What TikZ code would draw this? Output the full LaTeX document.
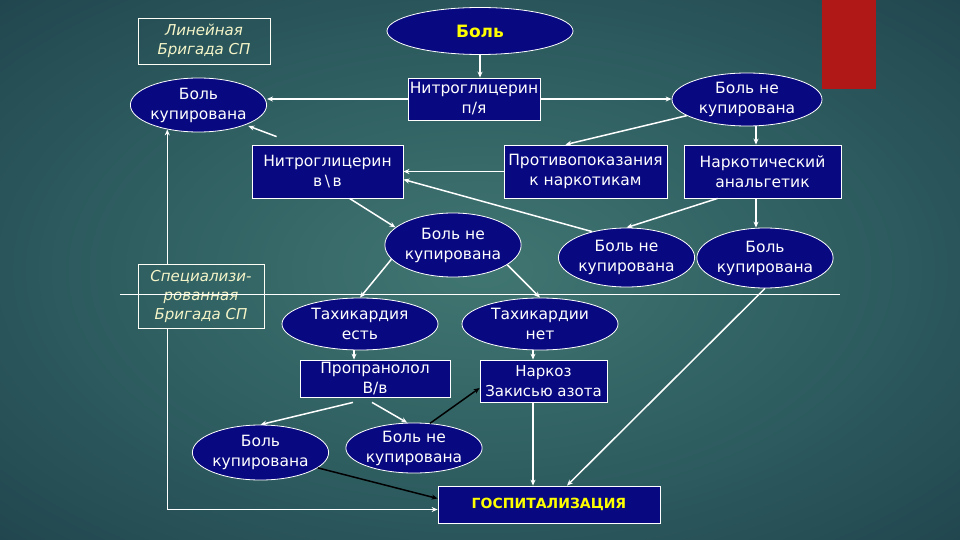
\documentclass[tikz,border=0pt]{standalone}
\usepackage{fontspec}
\setmainfont{DejaVu Sans}
\usetikzlibrary{shapes.geometric,arrows.meta,calc}
\definecolor{nv}{RGB}{8,8,128}
\definecolor{yel}{RGB}{255,255,0}
\definecolor{cream}{RGB}{245,245,200}
\definecolor{bgc}{RGB}{64,118,114}
\definecolor{bgm}{RGB}{44,90,94}
\definecolor{bge}{RGB}{22,48,62}
\definecolor{redbar}{RGB}{176,24,24}
\pgfdeclareradialshading{bgshade}{\pgfpoint{0bp}{0bp}}{color(0bp)=(bgc); color(22bp)=(bgm); color(50bp)=(bge); color(75bp)=(bge)}
\begin{document}
\begin{tikzpicture}[x=1pt,y=-1pt,
 every node/.style={font=\fontsize{15.5}{20}\selectfont, text=white, align=center, inner sep=0pt},
 ell/.style={ellipse, draw=white, line width=0.8pt, fill=nv},
 rbox/.style={rectangle, draw=white, line width=0.8pt, fill=nv},
 lbox/.style={rectangle, draw=white!85!cream, line width=0.8pt, text=cream, font=\fontsize{15}{19}\selectfont\itshape},
 arr/.style={draw=white, line width=1.5pt, -{Stealth[length=6pt,width=5pt]}},
 barr/.style={draw=black, line width=1.5pt, -{Stealth[length=6pt,width=5pt]}},
 sep/.style={draw=white, line width=1pt}]
\useasboundingbox (0,0) rectangle (960,540);
\shade[shading=bgshade] (0,0) rectangle (960,540);
\fill[redbar] (822,0) rectangle (876,89);

% nodes
\node[ell, minimum width=186pt, minimum height=47pt, text=yel, font=\fontsize{17}{20}\selectfont\bfseries] (bol) at (480,31) {Боль};
\node[lbox, minimum width=132pt, minimum height=46pt] (lin) at (204,41) {Линейная\\Бригада СП};
\node[rbox, minimum width=132pt, minimum height=42pt] (npya) at (474,99) {Нитроглицерин\\п/я};
\node[ell, minimum width=133pt, minimum height=54pt] (bk1) at (198.5,105) {Боль\\купирована};
\node[ell, minimum width=150pt, minimum height=53pt] (bnk1) at (747,99.5) {Боль не\\купирована};
\node[rbox, minimum width=151pt, minimum height=53pt] (nvv) at (327.5,171.5) {Нитроглицерин\\в\,\textbackslash\,в};
\node[rbox, minimum width=163pt, minimum height=53pt] (prot) at (585.5,171.5) {Противопоказания\\к наркотикам};
\node[rbox, minimum width=157pt, minimum height=53pt] (nark) at (762.5,171.5) {Наркотический\\анальгетик};
\node[ell, minimum width=126pt, minimum height=64pt] (bnk2) at (453,245) {Боль не\\купирована};
\node[ell, minimum width=127pt, minimum height=59pt] (bnk3) at (626.5,257.5) {Боль не\\купирована};
\node[ell, minimum width=126pt, minimum height=60pt] (bk2) at (765,258) {Боль\\купирована};
\node[lbox, minimum width=126pt, minimum height=64pt] (spec) at (201,296.5) {Специализи-\\рованная\\Бригада СП};
\node[ell, minimum width=156pt, minimum height=52pt] (tach1) at (360,324) {Тахикардия\\есть};
\node[ell, minimum width=156pt, minimum height=52pt] (tach2) at (540,324) {Тахикардии\\нет};
\node[rbox, minimum width=150pt, minimum height=37pt] (prop) at (375,378.5) {Пропранолол\\В/в};
\node[rbox, minimum width=127pt, minimum height=42pt, font=\fontsize{15}{20}\selectfont] (narkoz) at (543.5,381) {Наркоз\\Закисью азота};
\node[ell, minimum width=125pt, minimum height=55pt] (bk3) at (260.5,452.5) {Боль\\купирована};
\node[ell, minimum width=132pt, minimum height=50pt] (bnk4) at (414,448) {Боль не\\купирована};
\node[rbox, minimum width=222pt, minimum height=37pt, text=yel, font=\fontsize{14}{16}\selectfont\bfseries] (gosp) at (549,504.5) {ГОСПИТАЛИЗАЦИЯ};

% helper x positions
\coordinate (c0) at (480,0);
\coordinate (c1) at (756,0);
\coordinate (c2) at (354,0);
\coordinate (c3) at (533,0);

% separator line
\draw[sep] (120,294) -- (840,294);

% connectors
\draw[arr] (bol.south -| c0) -- (npya.north -| c0);
\draw[arr] (npya.west) -- (npya.west -| bk1.east);
\draw[arr] (npya.east) -- (npya.east -| bnk1.west);
\draw[arr] (bnk1.195) -- ($(prot.north)+(-20,0)$);
\draw[arr] (bnk1.south -| c1) -- (nark.north -| c1);
\draw[arr] (nark.south -| c1) -- (bk2.north -| c1);
\draw[arr] (prot.west) -- (nvv.east);
\draw[arr] ($(nark.south west)+(34,0)$) -- (bnk3.north);
\draw[arr] (bnk3.143) -- ($(nvv.east)+(0,8)$);
\draw[arr] ($(nvv.south)+(22,0)$) -- (bnk2.163);
\draw[arr, shorten >=3pt] ($(nvv.north west)+(25,-8)$) -- (bk1.337);
\draw[arr] (bnk2.193) -- (tach1.north);
\draw[arr] (bnk2.340) -- (tach2.north);
\draw[arr] (tach1.south -| c2) -- (prop.north -| c2);
\draw[arr] (tach2.south -| c3) -- (narkoz.north -| c3);
\draw[arr] ($(prop.south)+(-22,5)$) -- (bk3.north);
\draw[arr] ($(prop.south)+(-3,5)$) -- (bnk4.105);
\draw[barr] (bnk4.57) -- ($(narkoz.west)+(0,7)$);
\draw[barr] (bk3.345) -- ($(gosp.west)+(0,-6)$);
\draw[arr] (narkoz.south -| c3) -- (gosp.north -| c3);
\draw[arr] (bk2.south) -- ($(gosp.north)+(18,0)$);
\draw[arr] (spec.north -| bk1.218) -- (bk1.218);
\draw[arr] (spec.south -| bk1.218) |- ($(gosp.west)+(0,5)$);
\end{tikzpicture}
\end{document}
